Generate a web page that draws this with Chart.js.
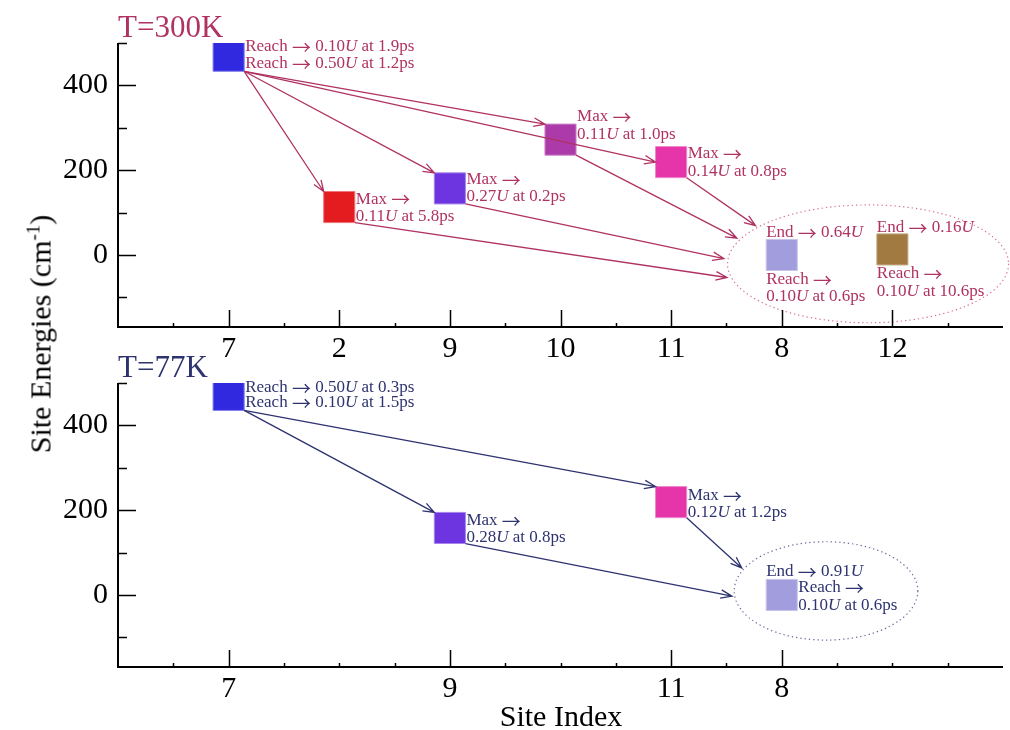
<!DOCTYPE html>
<html>
<head>
<meta charset="utf-8">
<script src="https://cdn.jsdelivr.net/npm/chart.js@4.4.1/dist/chart.umd.min.js"></script>
<style>
  html, body { margin: 0; padding: 0; background: #fff; }
  #wrap { position: relative; width: 1010px; height: 730px; overflow: hidden; font-family: 'Liberation Serif', serif; color: #000; }
  #topBox { position: absolute; left: 0; top: 0; width: 1010px; height: 365px; }
  #bottomBox { position: absolute; left: 0; top: 340px; width: 1010px; height: 390px; }
  #ytitle { position: absolute; left: 40px; top: 334px; transform: translate(-50%, -50%) rotate(-90deg); white-space: nowrap; font-size: 30px; }
  #ytitle sup { font-size: 19px; }
  #xtitle { position: absolute; left: 561px; top: 716px; transform: translate(-50%, -50%); white-space: nowrap; font-size: 30px; }
</style>
</head>
<body>
<div id="wrap">
  <div id="topBox"><canvas id="topChart"></canvas></div>
  <div id="bottomBox"><canvas id="bottomChart"></canvas></div>
  <div id="ytitle">Site Energies (cm<sup>-1</sup>)</div>
  <div id="xtitle">Site Index</div>
</div>
<script>
// T=300K panel
const sitesTop = ['7', '2', '9', '10', '11', '8', '12'];
const energyTop = [470, 113, 157, 272, 219, 0, 13];
const colorsTop = ['#3129e0', '#e41b1f', '#6c35e0', '#ac3aa8', '#e535a9', '#a29ede', '#a07a40'];
const transferTop = [['7', '2'], ['7', '9'], ['7', '10'], ['7', '11'], ['10', 'end'], ['11', 'end'], ['9', 'end'], ['2', 'end']];
const notesTop = {
  '7': ['Reach → 0.10*U* at 1.9ps', 'Reach → 0.50*U* at 1.2ps'],
  '2': ['Max →', '0.11*U* at 5.8ps'],
  '9': ['Max →', '0.27*U* at 0.2ps'],
  '10': ['Max →', '0.11*U* at 1.0ps'],
  '11': ['Max →', '0.14*U* at 0.8ps'],
  '8': ['End → 0.64*U*', 'Reach →', '0.10*U* at 0.6ps'],
  '12': ['End → 0.16*U*', 'Reach →', '0.10*U* at 10.6ps']
};

// T=77K panel
const sitesBottom = ['7', '9', '11', '8'];
const energyBottom = [472, 158, 219, 0];
const colorsBottom = ['#3129e0', '#6c35e0', '#e535a9', '#a29ede'];
const transferBottom = [['7', '11'], ['7', '9'], ['11', 'end'], ['9', 'end']];
const notesBottom = {
  '7': ['Reach → 0.50*U* at 0.3ps', 'Reach → 0.10*U* at 1.5ps'],
  '9': ['Max →', '0.28*U* at 0.8ps'],
  '11': ['Max →', '0.12*U* at 1.2ps'],
  '8': ['End → 0.91*U*', 'Reach →', '0.10*U* at 0.6ps']
};

const yMin = -170, yMax = 500;
const slotOf = site => sitesTop.indexOf(site) + 1;
const SERIF = "'Liberation Serif', 'Times New Roman', serif";
const ARROWFONT = "'Noto Sans CJK JP', 'DejaVu Serif', serif";

function lighten(hex, f) {
  const n = parseInt(hex.slice(1), 16);
  const c = [n >> 16, (n >> 8) & 255, n & 255].map(v => Math.round(v + (255 - v) * f));
  return 'rgb(' + c.join(',') + ')';
}

// '*' toggles italic; the arrow glyph gets its own font
function richText(ctx, str, x, y) {
  str.split('*').forEach((part, i) => {
    part.split(/(→)/).forEach(seg => {
      if (!seg) return;
      if (seg === '→') {
        ctx.font = '19px ' + ARROWFONT;
        ctx.fillText(seg, x, y + 1);
      } else {
        ctx.font = (i % 2 ? 'italic ' : '') + '17px ' + SERIF;
        ctx.fillText(seg, x, y);
      }
      x += ctx.measureText(seg).width;
    });
  });
}

function arrow(ctx, x0, y0, x1, y1) {
  const a = Math.atan2(y1 - y0, x1 - x0), len = 12, spread = 0.36;
  ctx.beginPath();
  ctx.moveTo(x0, y0);
  ctx.lineTo(x1, y1);
  ctx.moveTo(x1 - len * Math.cos(a - spread), y1 - len * Math.sin(a - spread));
  ctx.lineTo(x1, y1);
  ctx.lineTo(x1 - len * Math.cos(a + spread), y1 - len * Math.sin(a + spread));
  ctx.stroke();
}

const sketch = {
  id: 'sketch',
  afterDatasetsDraw(chart, args, o) {
    const ctx = chart.ctx, xs = chart.scales.x, ys = chart.scales.y;
    const half = chart.data.datasets[0].pointRadius * Math.SQRT1_2;
    const pt = site => ({ x: xs.getPixelForValue(slotOf(site)), y: ys.getPixelForValue(o.energy[o.sites.indexOf(site)]) });
    const e = o.ellipse;
    const ecx = xs.getPixelForValue(e.cx), ecy = ys.getPixelForValue(e.cy);
    const erx = xs.getPixelForValue(e.cx + e.rx) - ecx, ery = ecy - ys.getPixelForValue(e.cy + e.ry);
    ctx.save();
    ctx.setLineDash([1.3, 3]);
    ctx.strokeStyle = o.ellipseColor;
    ctx.lineWidth = 1.2;
    ctx.beginPath();
    ctx.ellipse(ecx, ecy, erx, ery, 0, 0, Math.PI * 2);
    ctx.stroke();
    ctx.setLineDash([]);
    ctx.strokeStyle = o.color;
    ctx.lineWidth = 1.3;
    o.transfers.forEach(([from, to], k) => {
      const a = pt(from);
      let x1, y1;
      if (to === 'end') {
        const ang = o.endAngles[k] * Math.PI / 180;
        x1 = ecx + erx * 1.03 * Math.cos(ang);
        y1 = ecy + ery * 1.03 * Math.sin(ang);
      } else {
        const b = pt(to);
        x1 = b.x - half;
        y1 = b.y - (o.midAnchor.includes(to) ? 0 : half);
      }
      arrow(ctx, a.x + half, a.y + half, x1, y1);
    });
    ctx.fillStyle = o.color;
    ctx.textBaseline = 'middle';
    Object.keys(o.notes).forEach(site => {
      const p = pt(site), place = o.notePlace[site];
      o.notes[site].forEach((txt, i) => {
        const [side, dy] = place[i];
        const x = side === 'r' ? p.x + half + 1 : p.x - half;
        richText(ctx, txt, x, p.y + dy);
      });
    });
    ctx.restore();
  },
  afterDraw(chart, args, o) {
    const ctx = chart.ctx, xs = chart.scales.x, ys = chart.scales.y;
    const { left, right, top, bottom } = chart.chartArea;
    ctx.save();
    ctx.strokeStyle = '#000';
    ctx.lineWidth = 2;
    ctx.beginPath();
    ctx.moveTo(left, top);
    ctx.lineTo(left, bottom);
    ctx.lineTo(right, bottom);
    ctx.stroke();
    ctx.lineWidth = 1.5;
    ctx.beginPath();
    ys.ticks.forEach(t => {
      const y = Math.round(ys.getPixelForValue(t.value)) + 0.5;
      ctx.moveTo(left, y);
      ctx.lineTo(left + (t.value % 200 === 0 ? 18 : 9), y);
    });
    xs.ticks.forEach(t => {
      if (t.value <= 0 || t.value >= 8) return;
      const x = Math.round(xs.getPixelForValue(t.value)) + 0.5;
      ctx.moveTo(x, bottom);
      ctx.lineTo(x, bottom - (t.label ? 17 : 4));
    });
    ctx.stroke();
    ctx.fillStyle = o.color;
    ctx.font = '31px ' + SERIF;
    ctx.textBaseline = 'alphabetic';
    ctx.fillText(o.title, left, 37);
    ctx.restore();
  }
};

function makeChart(id, sites, energy, colors, height, extra) {
  return new Chart(document.getElementById(id), {
    type: 'scatter',
    data: {
      datasets: [{
        data: sites.map((s, i) => ({ x: slotOf(s), y: energy[i] })),
        pointStyle: 'rect',
        pointRadius: 22,
        pointHoverRadius: 22,
        backgroundColor: colors,
        borderColor: colors.map(c => lighten(c, 0.4)),
        borderWidth: 1,
        hoverBorderWidth: 1
      }]
    },
    plugins: [sketch],
    options: {
      responsive: true,
      maintainAspectRatio: false,
      animation: false,
      events: [],
      layout: { autoPadding: false, padding: { top: 43, right: 7, left: 0, bottom: 0 } },
      plugins: {
        legend: { display: false },
        tooltip: { enabled: false },
        sketch: Object.assign({ sites: sites, energy: energy }, extra)
      },
      scales: {
        x: {
          type: 'linear',
          min: 0,
          max: 8,
          grid: { display: false, drawTicks: false },
          border: { display: false },
          afterFit: s => { s.height = height - 327; s.paddingLeft = 0; s.paddingRight = 0; },
          ticks: {
            stepSize: 0.5,
            autoSkip: false,
            maxRotation: 0,
            padding: 4,
            color: '#000',
            font: { family: SERIF, size: 30 },
            callback: v => (Number.isInteger(v) && sites.includes(sitesTop[v - 1])) ? sitesTop[v - 1] : ''
          }
        },
        y: {
          min: yMin,
          max: yMax,
          grid: { display: false, drawTicks: false },
          border: { display: false },
          afterFit: s => { s.width = 118; s.paddingTop = 0; s.paddingBottom = 0; },
          ticks: {
            stepSize: 100,
            includeBounds: false,
            padding: 10,
            color: '#000',
            font: { family: SERIF, size: 30 },
            callback: v => (v % 200 === 0 ? v : '')
          }
        }
      }
    }
  });
}

makeChart('topChart', sitesTop, energyTop, colorsTop, 365, {
  title: 'T=300K',
  color: '#b03262',
  ellipseColor: '#d8709a',
  transfers: transferTop,
  endAngles: [0, 0, 0, 0, 205, 219, 185, 167],
  midAnchor: ['11'],
  ellipse: { cx: 6.78, cy: -21, rx: 1.27, ry: 139 },
  notes: notesTop,
  notePlace: {
    '7': [['r', -9], ['r', 8]],
    '2': [['r', -8], ['r', 9]],
    '9': [['r', -9], ['r', 8.5]],
    '10': [['r', -23], ['r', -5]],
    '11': [['r', -8.5], ['r', 9.5]],
    '8': [['l', -22], ['l', 25], ['l', 42]],
    '12': [['l', -21.5], ['l', 24.5], ['l', 42.5]]
  }
});

makeChart('bottomChart', sitesBottom, energyBottom, colorsBottom, 390, {
  title: 'T=77K',
  color: '#2e3370',
  ellipseColor: '#6a6a9e',
  transfers: transferBottom,
  endAngles: [0, 0, 207, 174],
  midAnchor: [],
  ellipse: { cx: 6.4, cy: 9.5, rx: 0.83, ry: 116 },
  notes: notesBottom,
  notePlace: {
    '7': [['r', -7], ['r', 8]],
    '9': [['r', -7], ['r', 10]],
    '11': [['r', -6.5], ['r', 10.5]],
    '8': [['l', -23], ['r', -7], ['r', 11]]
  }
});
</script>
</body>
</html>
